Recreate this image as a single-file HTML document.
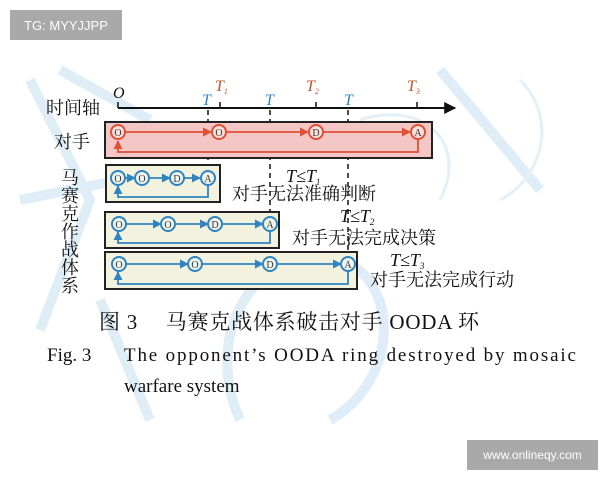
<!DOCTYPE html>
<html><head><meta charset="utf-8"><style>
html,body{margin:0;padding:0;background:#fff;}
body{width:600px;height:480px;overflow:hidden;position:relative;font-family:"Liberation Serif","Noto Serif CJK SC",serif;}
.badge{position:absolute;background:#a9a9a9;color:#fff;font-family:"Liberation Sans",sans-serif;display:flex;align-items:center;justify-content:center;}
</style></head><body>
<svg width="600" height="480" viewBox="0 0 600 480" style="position:absolute;left:0;top:0">
<defs>
<marker id="ar" viewBox="0 0 10 10" refX="9" refY="5" markerWidth="5" markerHeight="5" orient="auto"><path d="M0,0L10,5L0,10z" fill="#e05035"/></marker>
<marker id="ab" viewBox="0 0 10 10" refX="9" refY="5" markerWidth="5" markerHeight="5" orient="auto"><path d="M0,0L10,5L0,10z" fill="#2f84c0"/></marker>
<marker id="ak" viewBox="0 0 10 10" refX="9" refY="5" markerWidth="6" markerHeight="6" orient="auto"><path d="M0,0L10,5L0,10z" fill="#111"/></marker>
</defs>
<g stroke="#d6e9f5" stroke-width="10" fill="none" opacity="0.8">
<path d="M30,80 L90,200 L40,330"/><path d="M60,70 L150,120"/><path d="M20,200 L120,180"/>
<path d="M240,420 C200,330 260,240 340,260 C400,280 400,380 330,420"/>
<path d="M440,70 L540,190"/><path d="M100,300 L150,420"/>
</g>
<g stroke="#e3f0f8" stroke-width="3" fill="none">
<path d="M520,80 C560,120 540,180 500,200"/><path d="M360,120 C420,100 470,140 440,200"/>
</g>
<line x1="118" y1="108" x2="455" y2="108" stroke="#111" stroke-width="2" marker-end="url(#ak)"/>
<g stroke="#111" stroke-width="1.5"><line x1="118" y1="102" x2="118" y2="108"/><line x1="220" y1="102" x2="220" y2="108"/><line x1="316" y1="102" x2="316" y2="108"/><line x1="417" y1="102" x2="417" y2="108"/></g>
<g font-style="italic" font-size="16">
<text x="113" y="98" fill="#111">O</text>
<text x="215" y="91" fill="#b5542c">T<tspan font-size="8" dy="3">1</tspan></text>
<text x="306" y="91" fill="#b5542c">T<tspan font-size="8" dy="3">2</tspan></text>
<text x="407" y="91" fill="#b5542c">T<tspan font-size="8" dy="3">3</tspan></text>
<text x="202" y="105" fill="#2f84c0">T</text>
<text x="265" y="105" fill="#2f84c0">T</text>
<text x="344" y="105" fill="#2f84c0">T</text>
</g>
<g stroke="#111" stroke-width="1.5" stroke-dasharray="5,4">
<line x1="208" y1="110" x2="208" y2="165"/><line x1="270" y1="110" x2="270" y2="212"/><line x1="348" y1="110" x2="348" y2="252"/>
</g>
<rect x="105" y="122" width="327" height="36" fill="#f4c6c6" stroke="#222" stroke-width="2"/>
<g stroke="#e05035" stroke-width="1.8" fill="none">
<line x1="124" y1="132" x2="211" y2="132" marker-end="url(#ar)"/>
<line x1="227" y1="132" x2="308" y2="132" marker-end="url(#ar)"/>
<line x1="324" y1="132" x2="410" y2="132" marker-end="url(#ar)"/>
<path d="M418,140 V152 H118 V141" marker-end="url(#ar)"/>
</g>
<g stroke="#e05035" stroke-width="2" fill="#fbe0dd">
<circle cx="118" cy="132" r="7"/><circle cx="219" cy="132" r="7"/><circle cx="316" cy="132" r="7"/><circle cx="418" cy="132" r="7"/>
</g>
<g font-size="10" text-anchor="middle" fill="#333">
<text x="118" y="136">O</text><text x="219" y="136">O</text><text x="316" y="136">D</text><text x="418" y="136">A</text>
</g>
<g fill="#f3f2de" stroke="#222" stroke-width="2">
<rect x="106" y="165" width="114" height="37"/>
<rect x="105" y="212" width="174" height="36"/>
<rect x="105" y="252" width="252" height="37"/>
</g>
<g stroke="#2f84c0" stroke-width="1.8" fill="none">
<line x1="124" y1="178" x2="135" y2="178" marker-end="url(#ab)"/>
<line x1="149" y1="178" x2="170" y2="178" marker-end="url(#ab)"/>
<line x1="184" y1="178" x2="200" y2="178" marker-end="url(#ab)"/>
<path d="M208,185 V197 H118 V186" marker-end="url(#ab)"/>
<line x1="126" y1="224" x2="161" y2="224" marker-end="url(#ab)"/>
<line x1="175" y1="224" x2="208" y2="224" marker-end="url(#ab)"/>
<line x1="222" y1="224" x2="263" y2="224" marker-end="url(#ab)"/>
<path d="M270,231 V243 H118 V232" marker-end="url(#ab)"/>
<line x1="126" y1="264" x2="188" y2="264" marker-end="url(#ab)"/>
<line x1="202" y1="264" x2="263" y2="264" marker-end="url(#ab)"/>
<line x1="277" y1="264" x2="341" y2="264" marker-end="url(#ab)"/>
<path d="M348,271 V284 H118 V272" marker-end="url(#ab)"/>
</g>
<g stroke="#2f84c0" stroke-width="2" fill="#eef4ee">
<circle cx="118" cy="178" r="7"/><circle cx="142" cy="178" r="7"/><circle cx="177" cy="178" r="7"/><circle cx="208" cy="178" r="7"/>
<circle cx="119" cy="224" r="7"/><circle cx="168" cy="224" r="7"/><circle cx="215" cy="224" r="7"/><circle cx="270" cy="224" r="7"/>
<circle cx="119" cy="264" r="7"/><circle cx="195" cy="264" r="7"/><circle cx="270" cy="264" r="7"/><circle cx="348" cy="264" r="7"/>
</g>
<g font-size="10" text-anchor="middle" fill="#333">
<text x="118" y="182">O</text><text x="142" y="182">O</text><text x="177" y="182">D</text><text x="208" y="182">A</text>
<text x="119" y="228">O</text><text x="168" y="228">O</text><text x="215" y="228">D</text><text x="270" y="228">A</text>
<text x="119" y="268">O</text><text x="195" y="268">O</text><text x="270" y="268">D</text><text x="348" y="268">A</text>
</g>
<g font-size="18" fill="#111">
<text x="46" y="114">时间轴</text>
<text x="54" y="148">对手</text>
</g>
<g font-size="18" fill="#111" text-anchor="middle">
<text x="70" y="184">马</text><text x="70" y="202">赛</text><text x="70" y="220">克</text><text x="70" y="238">作</text><text x="70" y="256">战</text><text x="70" y="274">体</text><text x="70" y="292">系</text>
</g>
<g font-size="18" fill="#111">
<text x="286" y="182" font-style="italic">T≤T<tspan font-size="9" dy="3">1</tspan></text>
<text x="232" y="200">对手无法准确判断</text>
<text x="340" y="222" font-style="italic">T≤T<tspan font-size="9" dy="3">2</tspan></text>
<text x="292" y="244">对手无法完成决策</text>
<text x="390" y="266" font-style="italic">T≤T<tspan font-size="9" dy="3">3</tspan></text>
<text x="370" y="286">对手无法完成行动</text>
</g>
<text x="99" y="329" font-size="21" fill="#111" textLength="380">图 3　 马赛克战体系破击对手 OODA 环</text>
<text x="47" y="361" font-size="19" fill="#111">Fig. 3</text>
<text x="124" y="361" font-size="19" fill="#111" textLength="452">The opponent’s OODA ring destroyed by mosaic</text>
<text x="124" y="392" font-size="19" fill="#111">warfare system</text>
</svg>
<div class="badge" style="left:10px;top:10px;width:112px;height:30px;font-size:13px;">TG: MYYJJPP</div>
<div class="badge" style="left:467px;top:440px;width:131px;height:30px;font-size:12px;">www.onlineqy.com</div>
</body></html>
